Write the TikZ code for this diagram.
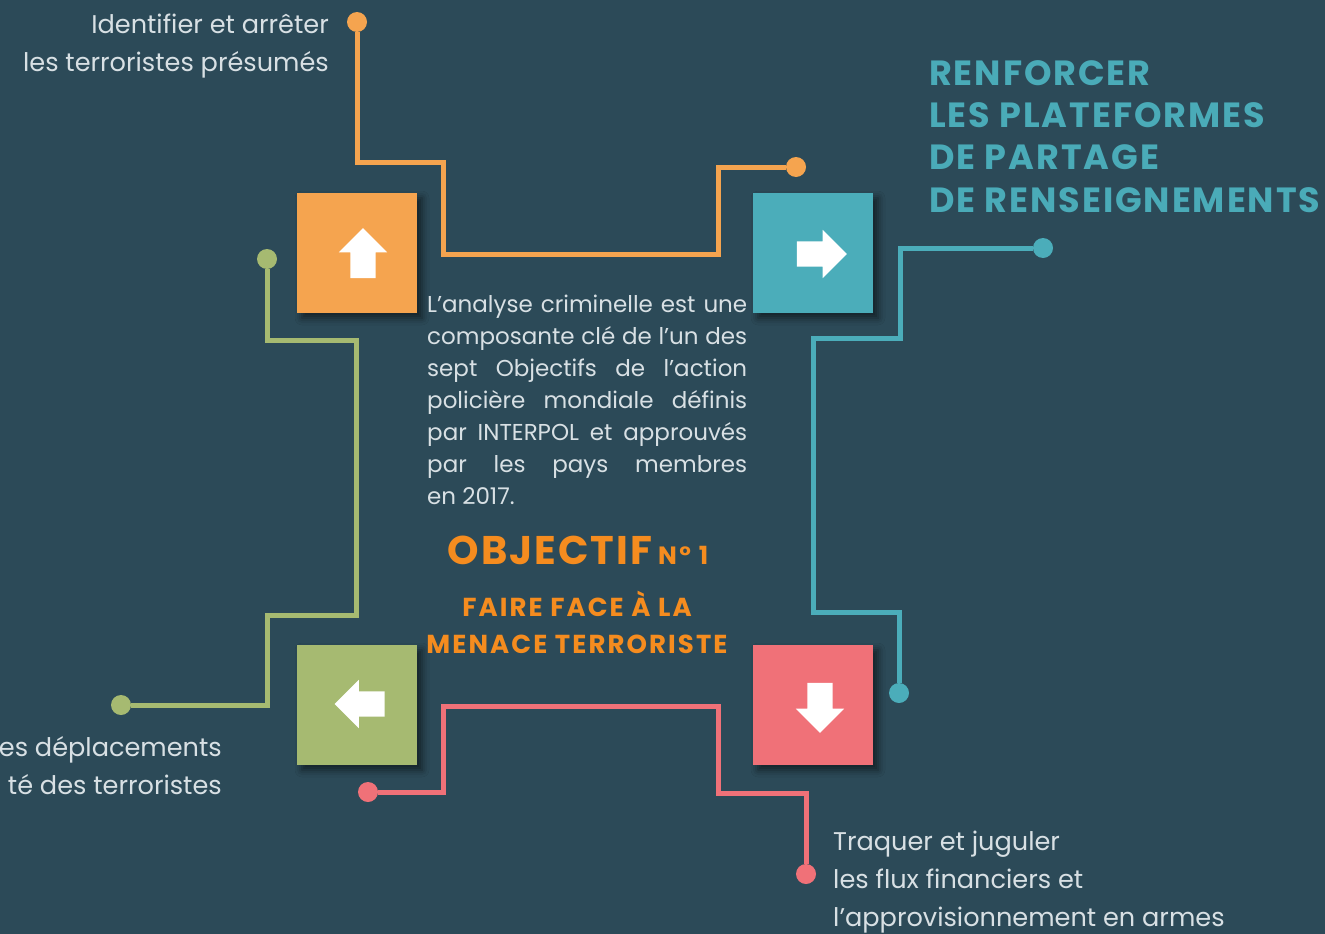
\documentclass[tikz,border=0pt]{standalone}
\usepackage{fontspec}
\setmainfont{Poppins}
\usepackage{xcolor}
\usetikzlibrary{shapes.arrows,shadows.blur}

\definecolor{slate}{HTML}{2C4A58}
\definecolor{boxorange}{HTML}{F5A44F}
\definecolor{boxteal}{HTML}{4BADBA}
\definecolor{boxgreen}{HTML}{A6BA71}
\definecolor{boxpink}{HTML}{F07178}
\definecolor{headorange}{HTML}{F58C1F}
\definecolor{headteal}{HTML}{4AABB8}
\definecolor{softwhite}{HTML}{D8E0E4}

\begin{document}
\begin{tikzpicture}[x=1pt, y=-1pt,
    tile/.style={rectangle, minimum size=120pt, inner sep=0pt,
        blur shadow={shadow xshift=5pt, shadow yshift=-5pt, shadow blur radius=7pt, shadow opacity=55}},
    pointer/.style={single arrow, fill=white, inner sep=12.5pt, minimum height=50pt, single arrow head extend=11.5pt},
    dot/.style={circle, inner sep=0pt, minimum size=20pt},
    wire/.style={line width=5pt},
    sidetext/.style={text=softwhite, font=\fontsize{25.6}{38}\selectfont, inner sep=0pt},
    body/.style={text=softwhite, font=\fontsize{23}{32}\selectfont, align=left, inner sep=0pt},
    heading/.style={inner sep=0pt}
]

% Canvas
\useasboundingbox (0,0) rectangle (1325,934);
\fill[slate] (0,0) rectangle (1325,934);

% Dots at the wire ends
\node[dot, fill=boxorange] (odot1) at (357,22) {};
\node[dot, fill=boxorange] (odot2) at (796,167) {};
\node[dot, fill=boxteal] (tdot1) at (1043,248) {};
\node[dot, fill=boxteal] (tdot2) at (899,693) {};
\node[dot, fill=boxgreen] (gdot1) at (267,259) {};
\node[dot, fill=boxgreen] (gdot2) at (121,705) {};
\node[dot, fill=boxpink] (pdot1) at (368,792) {};
\node[dot, fill=boxpink] (pdot2) at (806,874) {};

% Wires
\draw[wire, boxorange] (odot1) |- (443,162) |- (718,254) |- (odot2);
\draw[wire, boxteal] (tdot1) -| (900,338) -| (813,612) -| (tdot2);
\draw[wire, boxgreen] (gdot1) |- (356,340) |- (267,615) |- (gdot2);
\draw[wire, boxpink] (pdot1) -| (443,706) -| (718,793) -| (pdot2);

% Tiles
\node[tile, fill=boxorange] (upbox) at (357,253) {};
\node[tile, fill=boxteal] (rightbox) at (813,253) {};
\node[tile, fill=boxgreen] (leftbox) at (357,705) {};
\node[tile, fill=boxpink] (downbox) at (813,705) {};

% Arrows in the tiles
\node[pointer, shape border rotate=90] (uparr) at (363,259.5) {};
\node[pointer] (rightarr) at (815.5,254) {};
\node[pointer, shape border rotate=180] (leftarr) at (366,704) {};
\node[pointer, shape border rotate=270] (downarr) at (820,701.5) {};

% Side texts (anchored on their last line)
\node[sidetext, anchor=base east, align=right] (identify) at (329,71) {Identifier et arrêter\\les terroristes présumés};
\node[sidetext, anchor=base east, align=right] (moves) at (222,794) {es déplacements\\té des terroristes};
\node[sidetext, anchor=base west, align=left] (traquer) at (833,926) {Traquer et juguler\\les flux financiers et\\l’approvisionnement en armes};

% Goal title
\node[heading, text=headteal, anchor=base west, align=left,
      font=\bfseries\fontsize{35}{42.3}\selectfont\addfontfeatures{LetterSpace=5.5}] (renforcer) at (929,212)
  {RENFORCER\\LES PLATEFORMES\\DE PARTAGE\\DE RENSEIGNEMENTS};

% Middle text
\node[body, anchor=base west] (analyse) at (427,504) {%
  \makebox[320pt][s]{L’analyse criminelle est une}\\
  \makebox[320pt][s]{composante clé de l’un des}\\
  \makebox[320pt][s]{sept Objectifs de l’action}\\
  \makebox[320pt][s]{policière mondiale définis}\\
  \makebox[320pt][s]{par INTERPOL et approuvés}\\
  \makebox[320pt][s]{par les pays membres}\\
  en 2017.};

\node[heading, text=headorange, anchor=base] (objectif) at (578,564)
  {{\bfseries\fontsize{40}{40}\selectfont\addfontfeatures{LetterSpace=5}OBJECTIF}\hspace{6pt}%
   {\bfseries\fontsize{25}{25}\selectfont\addfontfeatures{LetterSpace=10}N° 1}};
\node[heading, text=headorange, anchor=base, align=center,
      font=\bfseries\fontsize{26}{37}\selectfont\addfontfeatures{LetterSpace=8}] (face) at (577,653)
  {FAIRE FACE À LA\\MENACE TERRORISTE};

\end{tikzpicture}
\end{document}
